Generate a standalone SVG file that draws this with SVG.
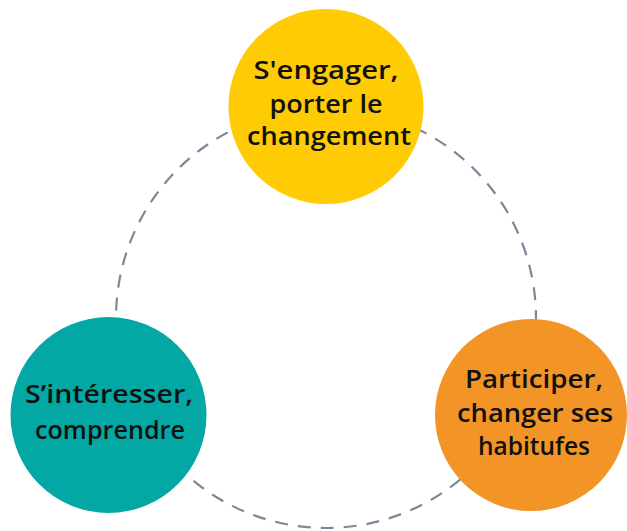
<svg xmlns="http://www.w3.org/2000/svg" width="627" height="531" viewBox="0 0 627 531">
<style>
.ring{fill:none;stroke:#7b8898;stroke-width:2.2;stroke-dasharray:13 10}
.lbl{font-family:"Open Sans","Noto Sans",sans-serif;font-weight:600;font-size:25px;fill:#111;text-anchor:middle}
</style>
<rect width="627" height="531" fill="#ffffff"/>
<g id="connectors">
<circle class="ring" cx="326" cy="318" r="210"/>
</g>
<g id="node-engager">
<circle cx="326" cy="106.5" r="97.5" fill="#FECB05"/>
<text class="lbl" x="326" y="79" textLength="145" lengthAdjust="spacingAndGlyphs">S'engager,</text>
<text class="lbl" x="326" y="113" textLength="113" lengthAdjust="spacingAndGlyphs">porter le</text>
<text class="lbl" x="329" y="145" textLength="164" lengthAdjust="spacingAndGlyphs">changement</text>
</g>
<g id="node-interesser">
<circle cx="108.5" cy="415" r="98" fill="#03A8A5"/>
<text class="lbl" x="109" y="403" textLength="168" lengthAdjust="spacingAndGlyphs">S’intéresser,</text>
<text class="lbl" x="110" y="439" textLength="150" lengthAdjust="spacingAndGlyphs">comprendre</text>
</g>
<g id="node-participer">
<circle cx="531" cy="415" r="96" fill="#F39426"/>
<text class="lbl" x="534" y="388" textLength="138" lengthAdjust="spacingAndGlyphs">Participer,</text>
<text class="lbl" x="535" y="422" textLength="156" lengthAdjust="spacingAndGlyphs">changer ses</text>
<text class="lbl" x="534" y="455" textLength="112" lengthAdjust="spacingAndGlyphs">habitufes</text>
</g>
</svg>
